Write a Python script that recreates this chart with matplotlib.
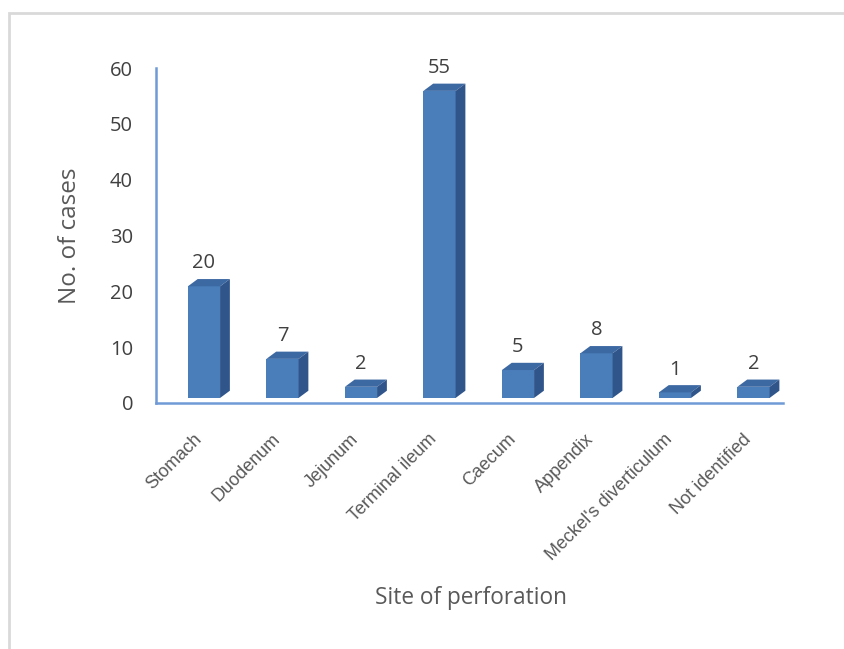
import matplotlib.pyplot as plt
from matplotlib.patches import Polygon, Rectangle
from matplotlib.transforms import ScaledTranslation

sites = ["Stomach", "Duodenum", "Jejunum", "Terminal ileum", "Caecum",
         "Appendix", "Meckel's diverticulum", "Not identified"]
cases = [20, 7, 2, 55, 5, 8, 1, 2]
y_ticks = [0, 10, 20, 30, 40, 50, 60]

# look of the fake 3D bars
FRONT = '#4a7ebb'
SIDE = '#30558a'
TOP = '#3d69a3'
W = 0.41      # front face width (category units)
DX = 0.125    # depth offset in x
DY = 1.3      # depth offset in y (data units)
BASE = 0.9    # bars sit a little above the axis line

AXIS_BLUE = '#6f9ad6'
NUM_FONT = ['Open Sans', 'DejaVu Sans']
CAT_FONT = ['Liberation Sans', 'DejaVu Sans']

fig = plt.figure(figsize=(8.44, 6.49), dpi=100)
ax = fig.add_axes([156 / 844, 1 - 403 / 649, 627 / 844, 335 / 649])

for i, v in enumerate(cases):
    x0, x1 = i - W / 2, i + W / 2
    y0, y1 = BASE, v + BASE
    ax.add_patch(Rectangle((x0, y0), W, v, fc=FRONT, ec='none', zorder=2))
    ax.add_patch(Polygon([(x0, y1), (x1, y1), (x1 + DX, y1 + DY), (x0 + DX, y1 + DY)],
                         closed=True, fc=TOP, ec='none', zorder=2))
    ax.add_patch(Polygon([(x1, y0), (x1 + DX, y0 + DY), (x1 + DX, y1 + DY), (x1, y1)],
                         closed=True, fc=SIDE, ec='none', zorder=2))
    ax.annotate(str(v), (i, y1 + DY), xytext=(0, 4), textcoords='offset points',
                ha='center', va='bottom', fontsize=14.5, family=NUM_FONT,
                color='#404040')

ax.set_xlim(-0.611, 7.376)
ax.set_ylim(0, 60)
ax.set_yticks(y_ticks)
ax.set_yticklabels([str(t) for t in y_ticks], fontsize=14.5, family=NUM_FONT,
                   color='#404040')
ax.set_xticks(range(len(sites)))
ax.set_xticklabels(sites, rotation=45, ha='right', rotation_mode='anchor',
                   fontsize=13, family=CAT_FONT, color='#595959')
ax.tick_params(axis='y', length=0, pad=16.5)
ax.tick_params(axis='x', length=0, pad=20)

# nudge the category labels left (after tick_params, which resets transforms)
shift = ScaledTranslation(-11 / 100, 0, fig.dpi_scale_trans)
for lab in ax.get_xticklabels():
    lab.set_transform(lab.get_transform() + shift)

for s in ['top', 'right']:
    ax.spines[s].set_visible(False)
for s in ['left', 'bottom']:
    ax.spines[s].set_color(AXIS_BLUE)
    ax.spines[s].set_linewidth(1.8)

ax.set_ylabel('No. of cases', fontsize=17.5, family=NUM_FONT, color='#595959',
              va='center')
ax.yaxis.set_label_coords(-0.137, 0.5)
ax.set_xlabel('Site of perforation', fontsize=16.3, family=NUM_FONT, color='#595959',
              va='center')
ax.xaxis.set_label_coords(0.502, -0.582)

# chart frame (only left and top edges are visible in the crop)
fig.patches.append(Rectangle((8.5 / 844, -0.2), 2, 1.2 - 12.5 / 649,
                             transform=fig.transFigure, fill=False,
                             ec='#d9d9d9', lw=2))

fig.savefig('out.png', dpi=100)
